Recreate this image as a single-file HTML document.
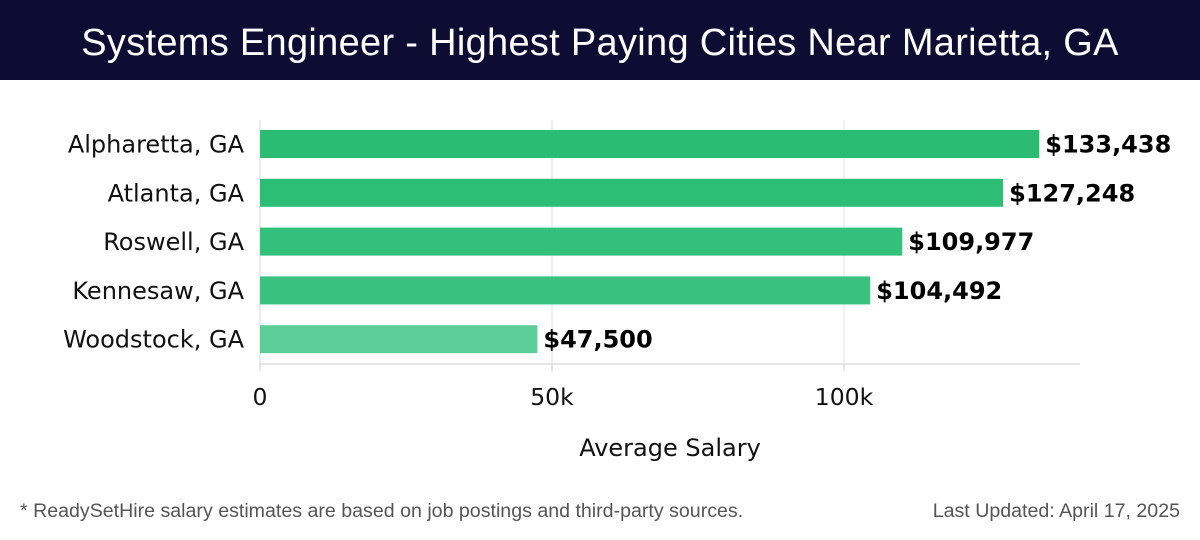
<!DOCTYPE html>
<html><head><meta charset="utf-8"><style>
body{margin:0;width:1200px;height:540px;background:#fff;overflow:hidden;font-family:"DejaVu Sans","Liberation Sans",sans-serif}
#title{position:absolute;left:0;top:0;width:1200px;height:80px;background:#0d0d33;color:#fff;font:38px "Liberation Sans",sans-serif;text-align:center;line-height:86px;letter-spacing:0.3px}
.foot{position:absolute;top:500px;font-size:19.6px;color:#555;font-family:"Liberation Sans",sans-serif}
</style></head><body>
<div id="title">Systems Engineer - Highest Paying Cities Near Marietta, GA</div>
<svg id="chart" width="1200" height="460" style="position:absolute;left:0;top:80px"></svg>
<div class="foot" style="left:20px">* ReadySetHire salary estimates are based on job postings and third-party sources.</div>
<div class="foot" style="right:20px">Last Updated: April 17, 2025</div>
<script>
const categories=["Alpharetta, GA","Atlanta, GA","Roswell, GA","Kennesaw, GA","Woodstock, GA"];
const values=[133438,127248,109977,104492,47500];
const ticks=[0,50000,100000];
const tickLabels=["0","50k","100k"];
const colors=["#29bc72","#2dbe76","#33c07a","#39c27e","#5bcd97"];
const svg=document.getElementById('chart');
const NS='http://www.w3.org/2000/svg';
const oy=-80;
const x0=260,pxPer=292/50000;
const xs=v=>x0+v*pxPer;
const yc=i=>144+i*48.8+oy;
function mk(t,a,txt){const e=document.createElementNS(NS,t);for(const k in a)e.setAttribute(k,a[k]);if(txt!=null)e.textContent=txt;svg.appendChild(e);return e;}
ticks.forEach((t,i)=>{
 if(t>0){const g=mk('line',{x1:xs(t),x2:xs(t),y1:120+oy,y2:364+oy,stroke:'#e3e3e3','stroke-width':1});
 
 }
 const tk=mk('line',{x1:xs(t),x2:xs(t),y1:364+oy,y2:371+oy,stroke:'#ccc'});
 
 
 const l=mk('text',{x:xs(t),y:405+oy,'text-anchor':'middle','font-size':23.5,fill:'#111'},tickLabels[i]);
 
 
});
const ax=mk('line',{x1:260,x2:1080,y1:364+oy,y2:364+oy,stroke:'#d0d0d0'});


const ay=mk('line',{x1:260,x2:260,y1:120+oy,y2:364+oy,stroke:'#d8d8d8'});


categories.forEach((c,i)=>{
 const r=mk('rect',{x:x0,y:yc(i)-14,width:xs(values[i])-x0,height:28,fill:colors[i]});
 
 
 const l=mk('text',{x:244,y:yc(i)+8.5,'text-anchor':'end','font-size':24,fill:'#111'},c);
 
 
 const v=mk('text',{x:xs(values[i])+6,y:yc(i)+8.5,'font-size':24,'font-weight':'bold',fill:'#000'},'$'+values[i].toLocaleString('en-US'));
 
 
});
const at=mk('text',{x:670,y:456+oy,'text-anchor':'middle','font-size':24,fill:'#111'},'Average Salary');


</script>
</body></html>
